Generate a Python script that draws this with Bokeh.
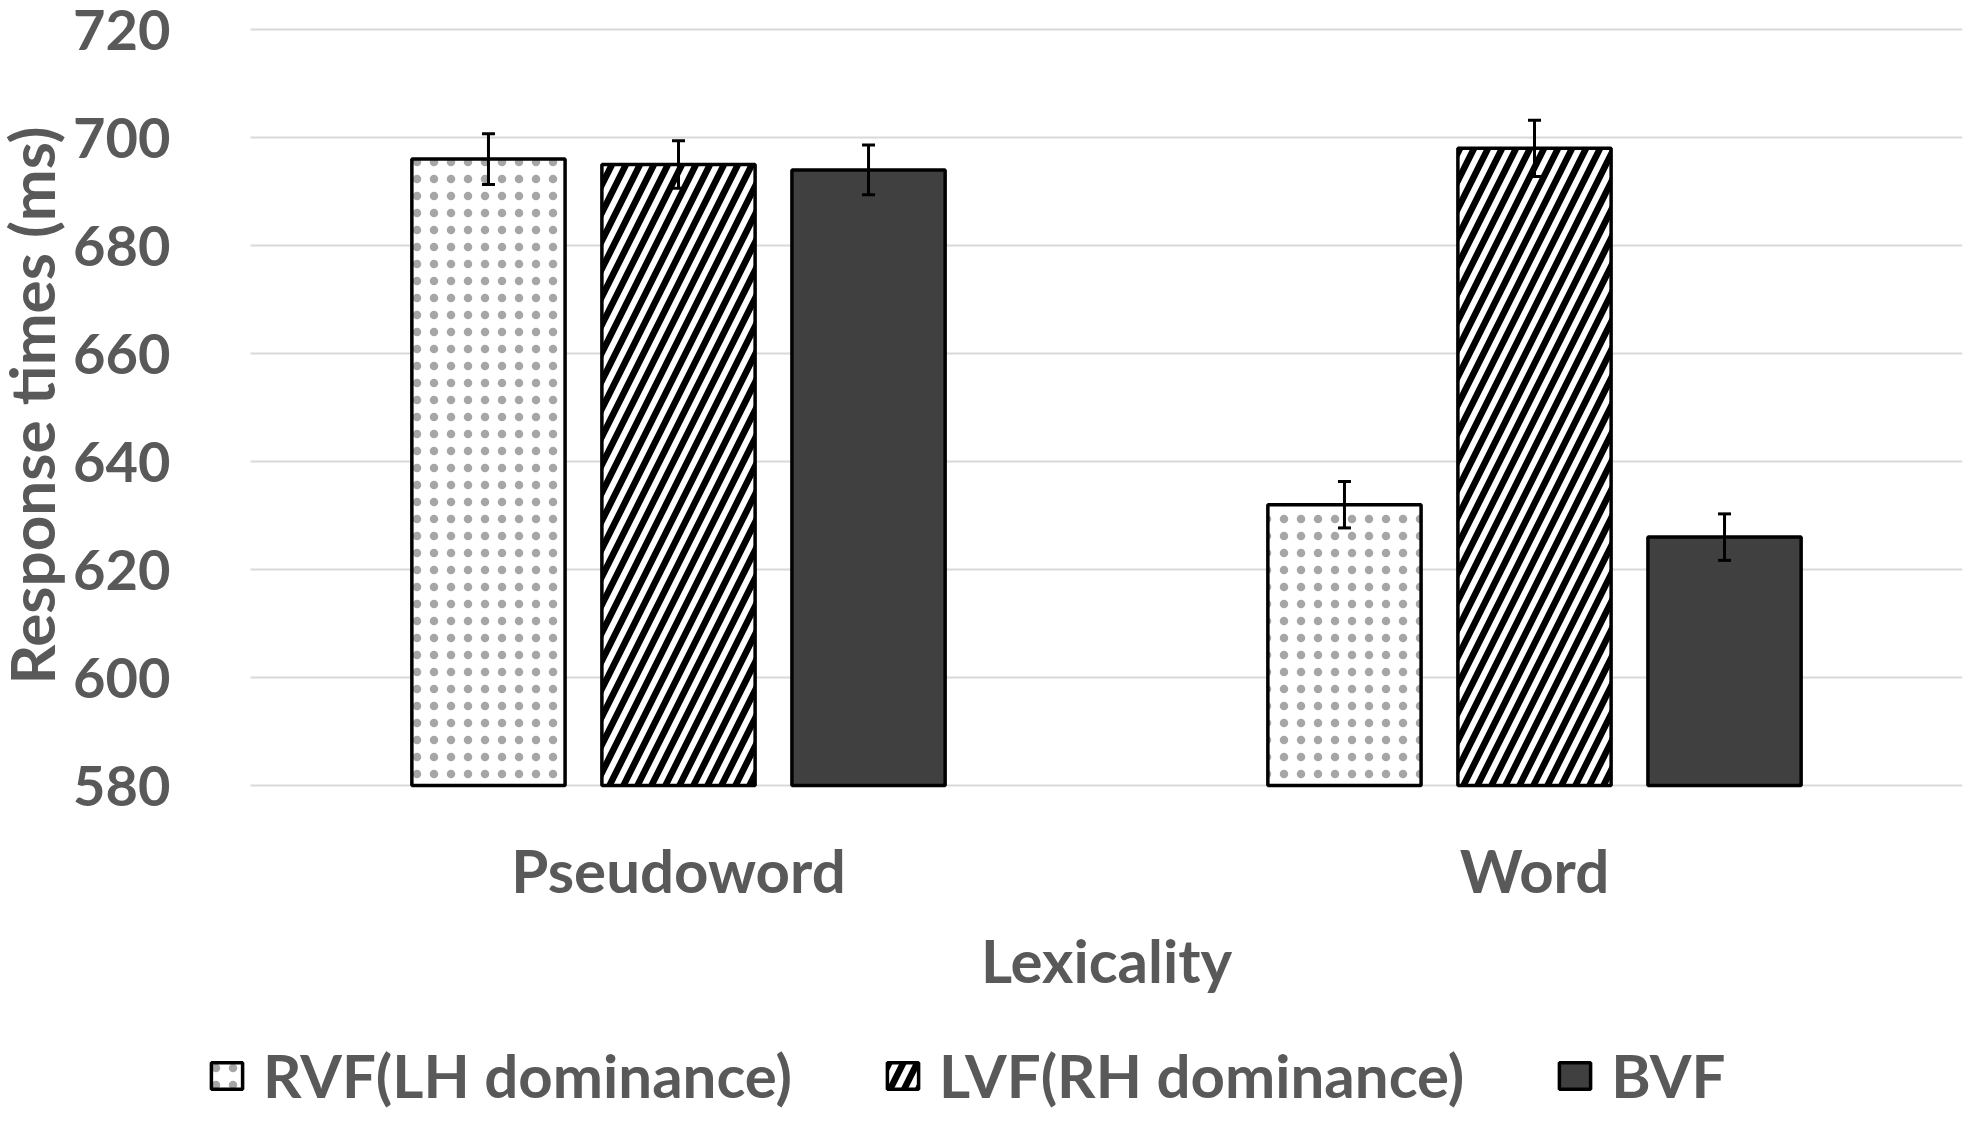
import math
from bokeh.plotting import figure
from bokeh.models import (Range1d, Legend, LegendItem, Whisker, TeeHead,
                          ColumnDataSource, FixedTicker, Label)
from bokeh.transform import dodge
from bokeh.embed import file_html
from bokeh.resources import INLINE

# ---- data ----
categories = ["Pseudoword", "Word"]
series_names = ["RVF(LH dominance)", "LVF(RH dominance)", "BVF"]
rvf = [696.0, 632.0]
lvf = [695.0, 698.0]
bvf = [694.0, 626.0]
rvf_err = [4.7, 4.3]
lvf_err = [4.4, 5.2]
bvf_err = [4.6, 4.3]
y_ticks = [580, 600, 620, 640, 660, 680, 700, 720]
y_title = "Response times (ms)"
x_title = "Lexicality"

TXT = "#595959"
FONT = "Lato"

# ---- layout (pixels inside the figure) ----
W, H = 1967, 1111
RIGHT_PAD = 5
PLOT_LEFT = 250          # where the plot area (grid lines) starts
TOP_Y = 29               # where 720 lies
AXIS_Y = 785             # where 580 lies (category axis)
n_cat = len(categories)
unit = (W - RIGHT_PAD - PLOT_LEFT) / n_cat
x_lo = -PLOT_LEFT / unit
px_per_ms = (AXIS_Y - TOP_Y) / (y_ticks[-1] - y_ticks[0])
y_hi = y_ticks[-1] + TOP_Y / px_per_ms
y_lo = y_ticks[0] - (H - AXIS_Y) / px_per_ms

cat_x = [i + 0.5 for i in range(n_cat)]

src = ColumnDataSource(dict(
    x=cat_x,
    rvf=rvf, lvf=lvf, bvf=bvf,
    rvf_lo=[v - e for v, e in zip(rvf, rvf_err)], rvf_hi=[v + e for v, e in zip(rvf, rvf_err)],
    lvf_lo=[v - e for v, e in zip(lvf, lvf_err)], lvf_hi=[v + e for v, e in zip(lvf, lvf_err)],
    bvf_lo=[v - e for v, e in zip(bvf, bvf_err)], bvf_hi=[v + e for v, e in zip(bvf, bvf_err)],
))

p = figure(width=W, height=H,
           x_range=Range1d(x_lo, n_cat),
           y_range=Range1d(y_lo, y_hi),
           output_backend="svg", toolbar_location=None,
           min_border_left=0, min_border_right=RIGHT_PAD,
           min_border_top=0, min_border_bottom=0)

p.outline_line_color = None
p.xgrid.grid_line_color = None

# horizontal grid lines, only across the plot area
try:
    p.ygrid.cross_bounds = (0, n_cat)
    p.ygrid.ticker = FixedTicker(ticks=y_ticks)
    p.ygrid.grid_line_color = "#d9d9d9"
    p.ygrid.grid_line_width = 2
except Exception:
    p.ygrid.grid_line_color = None
    p.segment(x0=0, x1=n_cat, y0=y_ticks, y1=y_ticks, line_color="#d9d9d9", line_width=2)

BAR_W = 0.179
OFF = 0.222

common = dict(source=src, width=BAR_W, bottom=y_ticks[0], line_color="black", line_width=3.5)
r1 = p.vbar(x=dodge("x", -OFF), top="rvf", fill_color="white",
            hatch_pattern="dot", hatch_color="#a6a6a6", hatch_scale=17, hatch_weight=1.2,
            **common)
r2 = p.vbar(x=dodge("x", 0.0), top="lvf", fill_color="white",
            hatch_pattern="right_diagonal_line", hatch_color="black", hatch_scale=28,
            hatch_weight=6.5, **common)
r3 = p.vbar(x=dodge("x", OFF), top="bvf", fill_color="#404040", **common)

for off, key in [(-OFF, "rvf"), (0.0, "lvf"), (OFF, "bvf")]:
    w = Whisker(source=src, base=dodge("x", off),
                lower=key + "_lo", upper=key + "_hi", level="overlay",
                line_color="black", line_width=3,
                upper_head=TeeHead(size=13, line_width=3, line_color="black"),
                lower_head=TeeHead(size=13, line_width=3, line_color="black"))
    p.add_layout(w)

# axes
p.yaxis.ticker = FixedTicker(ticks=y_ticks)
p.xaxis.ticker = FixedTicker(ticks=cat_x)
p.xaxis.major_label_overrides = {x: c for x, c in zip(cat_x, categories)}
for ax in (p.xaxis[0], p.yaxis[0]):
    ax.axis_line_color = None
    ax.major_tick_line_color = None
    ax.minor_tick_line_color = None
    ax.major_tick_out = 0
    ax.major_tick_in = 0
    ax.major_label_text_font = FONT
    ax.major_label_text_font_style = "bold"
    ax.major_label_text_color = TXT
    ax.axis_label_text_font = FONT
    ax.axis_label_text_font_style = "bold"
    ax.axis_label_text_color = TXT

p.yaxis.fixed_location = 0
p.yaxis.major_label_text_font_size = "56px"
p.yaxis.major_label_standoff = 80

p.xaxis.fixed_location = y_ticks[0]
p.xaxis.bounds = (0, n_cat)
p.xaxis.axis_label = x_title
p.xaxis.major_label_text_font_size = "60px"
p.xaxis.axis_label_text_font_size = "60px"
p.xaxis.major_label_standoff = 48
p.xaxis.axis_label_standoff = 15

# y-axis title, rotated, left of the tick labels
ylab = Label(x=30, y=H - 405, x_units="screen", y_units="screen", text=y_title,
             angle=math.pi / 2, text_align="center", text_baseline="alphabetic",
             text_font=FONT, text_font_style="bold", text_color=TXT,
             text_font_size="62px")
p.add_layout(ylab)

legend = Legend(items=[LegendItem(label=series_names[0], renderers=[r1]),
                       LegendItem(label=series_names[1], renderers=[r2]),
                       LegendItem(label=series_names[2], renderers=[r3])],
                orientation="horizontal", location=(207, 0),
                glyph_width=39, glyph_height=33, label_standoff=17, spacing=91,
                padding=0, margin=0, label_height=40,
                label_text_font=FONT, label_text_font_style="bold",
                label_text_color=TXT, label_text_font_size="60px",
                border_line_color=None, background_fill_alpha=0)
p.add_layout(legend, "center")

open("out.html", "w").write(file_html(p, INLINE))
